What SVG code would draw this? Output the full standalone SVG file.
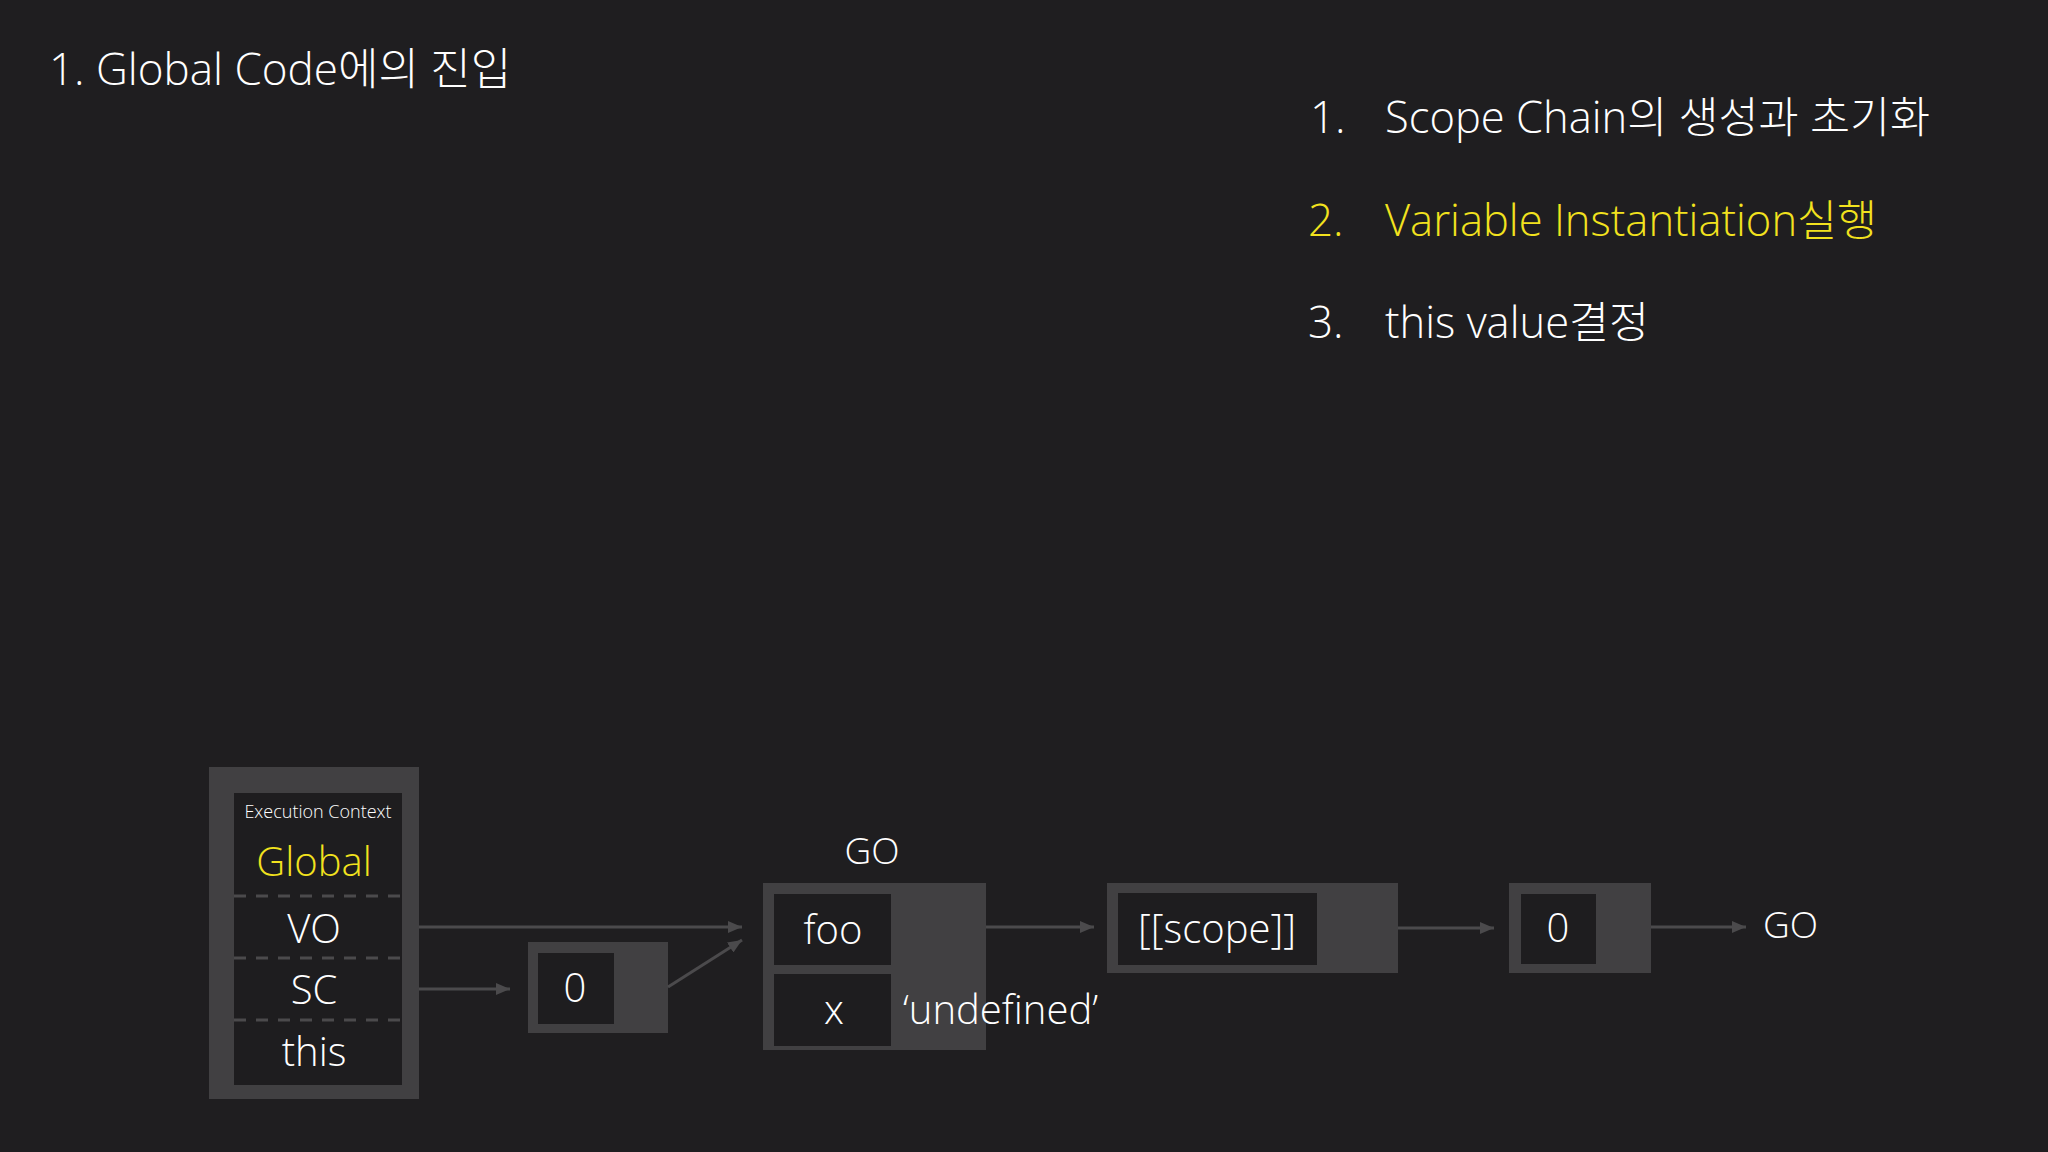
<svg xmlns="http://www.w3.org/2000/svg" width="2048" height="1152" viewBox="0 0 2048 1152">
<defs>
<style>
.t{font-family:"Open Sans","Noto Sans CJK KR",sans-serif;font-weight:300;fill:#ffffff}
.y{fill:#f2e21e}
.outer{fill:#414042}
.inner{fill:#1e1d1f}
.conn{stroke:#4b4a4c;stroke-width:3;fill:none}
.dash{stroke:#4b4a4c;stroke-width:3;stroke-dasharray:12 10}
</style>
<marker id="ah" markerUnits="userSpaceOnUse" markerWidth="14" markerHeight="12" refX="14" refY="6" orient="auto">
<path d="M0,0 L14,6 L0,12 z" fill="#4b4a4c"/>
</marker>
</defs>
<rect width="2048" height="1152" fill="#1f1e20"/>

<g id="title">
<text class="t" x="49" y="85" font-size="44">1. Global Code에의 진입</text>
</g>
<g id="steps">
<text class="t" x="1310" y="133" font-size="44">1.</text>
<text class="t" x="1385" y="133" font-size="43.5">Scope Chain의 생성과 초기화</text>
<text class="t y" x="1308" y="236" font-size="44">2.</text>
<text class="t y" x="1385" y="236" font-size="43.5">Variable Instantiation실행</text>
<text class="t" x="1308" y="338" font-size="44">3.</text>
<text class="t" x="1385" y="338" font-size="43.5">this value결정</text>
</g>

<g id="execution-context">
<rect class="outer" x="209" y="767" width="210" height="332"/>
<rect class="inner" x="234" y="793" width="168" height="292"/>
<line class="dash" x1="234" y1="896" x2="402" y2="896"/>
<line class="dash" x1="234" y1="958" x2="402" y2="958"/>
<line class="dash" x1="234" y1="1020" x2="402" y2="1020"/>
<text class="t" x="318" y="818" font-size="18" text-anchor="middle">Execution Context</text>
<text class="t y" x="314" y="876" font-size="40" text-anchor="middle">Global</text>
<text class="t" x="314" y="943" font-size="40" text-anchor="middle">VO</text>
<text class="t" x="314" y="1004" font-size="40" text-anchor="middle">SC</text>
<text class="t" x="314" y="1066" font-size="40" text-anchor="middle">this</text>
</g>

<g id="sc-list">
<rect class="outer" x="528" y="942" width="140" height="91"/>
<rect class="inner" x="538" y="953" width="76" height="71"/>
<text class="t" x="575" y="1002" font-size="40" text-anchor="middle">0</text>
</g>

<g id="go-object">
<text class="t" x="872" y="864" font-size="37" text-anchor="middle">GO</text>
<rect class="outer" x="763" y="883" width="223" height="167"/>
<rect class="inner" x="774" y="894" width="117" height="71"/>
<rect class="inner" x="774" y="974" width="117" height="72"/>
<text class="t" x="833" y="944" font-size="40" text-anchor="middle">foo</text>
<text class="t" x="834" y="1024" font-size="40" text-anchor="middle">x</text>
<text class="t" x="903" y="1024" font-size="40">‘undefined’</text>
</g>

<g id="scope-object">
<rect class="outer" x="1107" y="883" width="291" height="90"/>
<rect class="inner" x="1118" y="893" width="199" height="72"/>
<text class="t" x="1217" y="943" font-size="40" text-anchor="middle">[[scope]]</text>
</g>

<g id="scope-list">
<rect class="outer" x="1509" y="883" width="142" height="90"/>
<rect class="inner" x="1521" y="894" width="75" height="70"/>
<text class="t" x="1558" y="942" font-size="40" text-anchor="middle">0</text>
</g>

<g id="go-label">
<text class="t" x="1763" y="938" font-size="37">GO</text>
</g>

<g id="connectors">
<line class="conn" x1="419" y1="927" x2="742" y2="927" marker-end="url(#ah)"/>
<line class="conn" x1="419" y1="989" x2="510" y2="989" marker-end="url(#ah)"/>
<line class="conn" x1="668" y1="987" x2="742" y2="940" marker-end="url(#ah)"/>
<line class="conn" x1="986" y1="927" x2="1094" y2="927" marker-end="url(#ah)"/>
<line class="conn" x1="1398" y1="928" x2="1494" y2="928" marker-end="url(#ah)"/>
<line class="conn" x1="1651" y1="927" x2="1746" y2="927" marker-end="url(#ah)"/>
</g>
</svg>
